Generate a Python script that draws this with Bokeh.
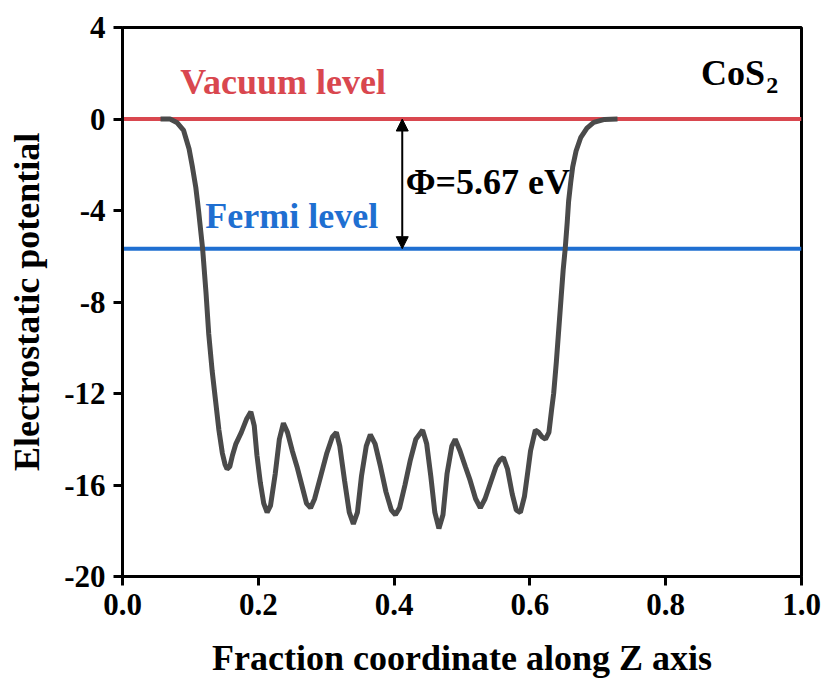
from bokeh.plotting import figure
from bokeh.models import Label, Arrow, NormalHead, FixedTicker, CustomJSTickFormatter
from bokeh.embed import file_html
from bokeh.resources import INLINE

# Data
z_frac = [0.056, 0.07, 0.08, 0.09, 0.098, 0.103, 0.108, 0.112, 0.118, 0.123, 0.127, 0.132,
          0.137, 0.142, 0.147, 0.151, 0.154, 0.158, 0.162, 0.167, 0.175, 0.183, 0.189, 0.194,
          0.198, 0.203, 0.208, 0.213, 0.218, 0.225, 0.231, 0.237, 0.243, 0.250, 0.257, 0.264,
          0.271, 0.277, 0.283, 0.292, 0.301, 0.309, 0.315, 0.320, 0.327, 0.334, 0.340, 0.346,
          0.352, 0.359, 0.365, 0.372, 0.380, 0.388, 0.396, 0.402, 0.408, 0.416, 0.424, 0.432,
          0.442, 0.448, 0.454, 0.460, 0.466, 0.472, 0.478, 0.485, 0.490, 0.497, 0.505, 0.512,
          0.520, 0.527, 0.534, 0.542, 0.550, 0.556, 0.561, 0.567, 0.574, 0.580, 0.586, 0.592,
          0.597, 0.601, 0.608, 0.613, 0.618, 0.623, 0.628, 0.632, 0.635, 0.639, 0.642, 0.646,
          0.649, 0.652, 0.655, 0.657, 0.660, 0.663, 0.668, 0.675, 0.684, 0.694, 0.710, 0.729]
potential = [0.0, 0.0, -0.15, -0.5, -1.3, -2.1, -3.0, -4.0, -5.67, -7.6, -9.4, -11.0,
             -12.3, -13.6, -14.6, -15.1, -15.3, -15.2, -14.7, -14.2, -13.7, -13.1, -12.8, -13.4,
             -14.7, -15.9, -16.8, -17.2, -16.9, -15.5, -14.0, -13.3, -13.7, -14.5, -15.2, -16.0,
             -16.8, -17.0, -16.6, -15.6, -14.6, -13.9, -13.7, -14.3, -15.8, -17.2, -17.7, -17.2,
             -15.6, -14.3, -13.8, -14.2, -15.2, -16.3, -17.1, -17.3, -17.0, -16.0, -14.9, -14.0,
             -13.6, -14.2, -15.6, -17.2, -17.9, -17.3, -15.5, -14.3, -14.0, -14.5, -15.2, -15.8,
             -16.6, -17.0, -16.6, -15.9, -15.2, -14.9, -14.8, -15.3, -16.4, -17.1, -17.2, -16.5,
             -15.4, -14.5, -13.6, -13.7, -13.9, -14.0, -13.7, -12.7, -12.0, -10.6, -9.4, -7.8,
             -6.6, -5.67, -4.5, -3.6, -2.8, -2.1, -1.4, -0.8, -0.4, -0.15, -0.02, 0.0]
vacuum_level = 0.0
fermi_level = -5.67
work_function_label = "Φ=5.67 eV"
y_ticks = [-20, -16, -12, -8, -4, 0, 4]
x_ticks = [0.0, 0.2, 0.4, 0.6, 0.8, 1.0]

FONT = "Liberation Serif"

p = figure(width=829, height=688, x_range=(0, 1), y_range=(-20, 4),
           output_backend="svg", toolbar_location=None,
           min_border_left=122, min_border_right=28, min_border_top=27, min_border_bottom=112)
p.grid.visible = False
p.background_fill_color = "white"
p.border_fill_color = "white"
p.outline_line_color = "black"
p.outline_line_width = 3

# horizontal level lines
p.line([0, 1], [vacuum_level, vacuum_level], line_color="#D9474F", line_width=4)
p.line([0, 1], [fermi_level, fermi_level], line_color="#1F6FD1", line_width=4)

# potential curve
p.line(z_frac, potential, line_color="#4A4A4A", line_width=5)

# arrow
p.add_layout(Arrow(start=NormalHead(size=12, fill_color="black", line_color="black"),
                   end=NormalHead(size=12, fill_color="black", line_color="black"),
                   x_start=0.412, y_start=fermi_level, x_end=0.412, y_end=vacuum_level,
                   line_width=2, line_color="black"))

def lab(x, y, text, size, color):
    p.add_layout(Label(x=x, y=y, text=text, text_font=FONT, text_font_style="bold",
                       text_font_size=size, text_color=color, text_align="left",
                       text_baseline="middle"))

lab(0.085, 1.6, "Vacuum level", "36px", "#D9474F")
lab(0.122, -4.25, "Fermi level", "36px", "#1F6FD1")
lab(0.417, -2.77, work_function_label, "36px", "black")
lab(0.852, 2.0, "CoS", "36px", "black")
lab(0.948, 1.45, "2", "24px", "black")

# axes
for ax in (p.xaxis[0], p.yaxis[0]):
    ax.axis_line_width = 3
    ax.axis_line_color = "black"
    ax.major_tick_line_width = 3
    ax.major_tick_out = 9
    ax.major_tick_in = 0
    ax.minor_tick_line_color = None
    ax.major_label_text_font = FONT
    ax.major_label_text_font_style = "bold"
    ax.major_label_text_font_size = "31px"
    ax.major_label_text_color = "black"
    ax.axis_label_text_font = FONT
    ax.axis_label_text_font_style = "bold"
    ax.axis_label_text_font_size = "36px"
    ax.axis_label_text_color = "black"

p.xaxis.ticker = FixedTicker(ticks=x_ticks)
p.yaxis.ticker = FixedTicker(ticks=y_ticks)
p.xaxis.formatter = CustomJSTickFormatter(code="return tick.toFixed(1);")
p.yaxis.formatter = CustomJSTickFormatter(code="return tick.toFixed(0);")
p.xaxis.axis_label = "Fraction coordinate along Z axis"
p.yaxis.axis_label = "Electrostatic potential"
p.xaxis.major_label_standoff = 8
p.yaxis.major_label_standoff = 8
p.xaxis.axis_label_standoff = 20
p.yaxis.axis_label_standoff = 14

open("out.html", "w").write(file_html(p, INLINE))
